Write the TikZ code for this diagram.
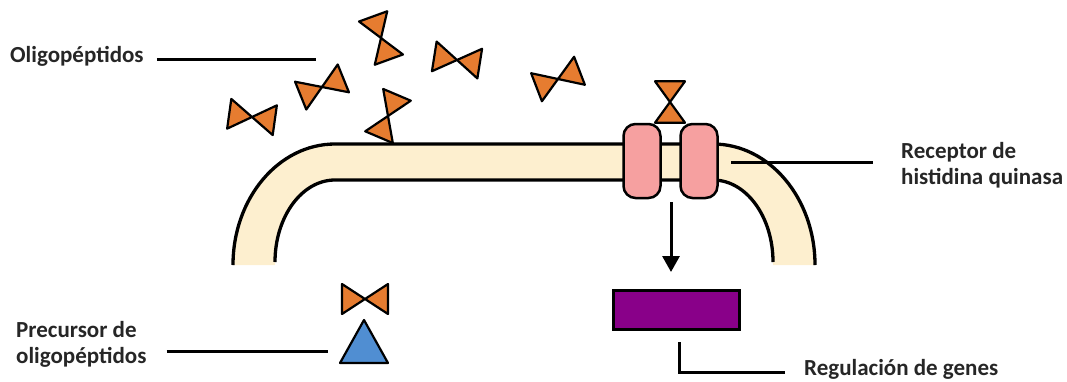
\documentclass[tikz,border=0pt]{standalone}
\usepackage{fontspec}
\setmainfont{Carlito}
\usepackage{tikz}
\usetikzlibrary{arrows.meta}

\definecolor{membrana}{RGB}{253,239,207}
\definecolor{naranja}{RGB}{230,124,48}
\definecolor{rosa}{RGB}{246,160,160}
\definecolor{morado}{RGB}{137,0,137}
\definecolor{azul}{RGB}{80,142,210}
\definecolor{texto}{RGB}{38,38,38}

% one oligopeptide: two triangles tip to tip
\tikzset{pept/.pic={
    \draw[line width=2.2pt, fill=naranja, line join=round]
        (0,0) -- (-23,-15) -- (-23,15) -- cycle
        (0,0) -- (23,-15) -- (23,15) -- cycle;
}}

\begin{document}
\begin{tikzpicture}[x=1pt, y=-1pt,
    etiqueta/.style={inner sep=0pt, font=\fontsize{23}{26}\selectfont\bfseries, text=texto, align=left},
    leader/.style={line width=3pt},
    borde/.style={line width=3.3pt},
    recbox/.style={draw, line width=2.5pt, fill=rosa, rounded corners=12pt, minimum width=37pt, minimum height=74pt}]
    \useasboundingbox (0,0) rectangle (1067,381);

    % Membrane
    \fill[membrana] (233,265) arc[start angle=180, end angle=270, x radius=102, y radius=121]
        -- (713,144) arc[start angle=270, end angle=360, x radius=102, y radius=121]
        -- (773,265) arc[start angle=0, end angle=-90, x radius=60, y radius=85]
        -- (335,180) arc[start angle=270, end angle=180, x radius=60, y radius=85] -- cycle;
    \draw[borde] (233,265) arc[start angle=180, end angle=270, x radius=102, y radius=121]
        -- (713,144) arc[start angle=270, end angle=360, x radius=102, y radius=121];
    \draw[borde] (275,262) arc[start angle=180, end angle=270, x radius=60, y radius=82]
        -- (713,180) arc[start angle=270, end angle=360, x radius=60, y radius=82];

    % Receptor
    \node[recbox] (recL) at (642,161) {};
    \node[recbox] (recR) at (699,161) {};

    % Oligopeptides
    \pic[rotate=-8]  (pA) at (252,117) {pept};
    \pic[rotate=22]  (pB) at (322,87)  {pept};
    \pic[rotate=-70] (pC) at (381,38)  {pept};
    \pic[rotate=67]  (pD) at (388,116) {pept};
    \pic[rotate=-9]  (pE) at (457,60)  {pept};
    \pic[rotate=21]  (pF) at (558,79)  {pept};
    \pic[rotate=90, xscale=0.9] (pH) at (670,102) {pept};
    \pic (pP) at (365,299) {pept};

    % Precursor
    \draw[line width=2.2pt, fill=azul, line join=round] (364,320) -- (388,363) -- (340,363) -- cycle;

    % Gene regulation
    \node[draw, line width=3pt, fill=morado, minimum width=126pt, minimum height=39pt] (gen) at (676.5,310) {};
    \coordinate (senal) at (671,202);
    \draw[leader, -{Triangle[length=16pt, width=17pt]}, shorten >=17pt] (senal) -- (senal |- gen.north);

    % Labels
    \node[etiqueta, anchor=base west] (oligo) at (10,62) {Oligopéptidos};
    \coordinate (oligofin) at (316,59);
    \draw[leader, shorten <=13pt] (oligofin -| oligo.east) -- (oligofin);

    \node[etiqueta, anchor=base west] (prec) at (16,363) {Precursor de\\oligopéptidos};
    \coordinate (precfin) at (328,351);
    \draw[leader, shorten <=20pt] (precfin -| prec.east) -- (precfin);

    \node[etiqueta, anchor=base west] (rec) at (901,184) {Receptor de\\histidina quinasa};
    \coordinate (recpunta) at (731,162);
    \draw[leader, shorten >=28pt] (recpunta) -- (recpunta -| rec.west);

    \node[etiqueta, anchor=base west] (reg) at (804,375) {Regulación de genes};
    \coordinate (regfin) at (785,372);
    \draw[leader] ([xshift=2.5pt, yshift=-11pt]gen.south) |- (regfin);
\end{tikzpicture}
\end{document}
